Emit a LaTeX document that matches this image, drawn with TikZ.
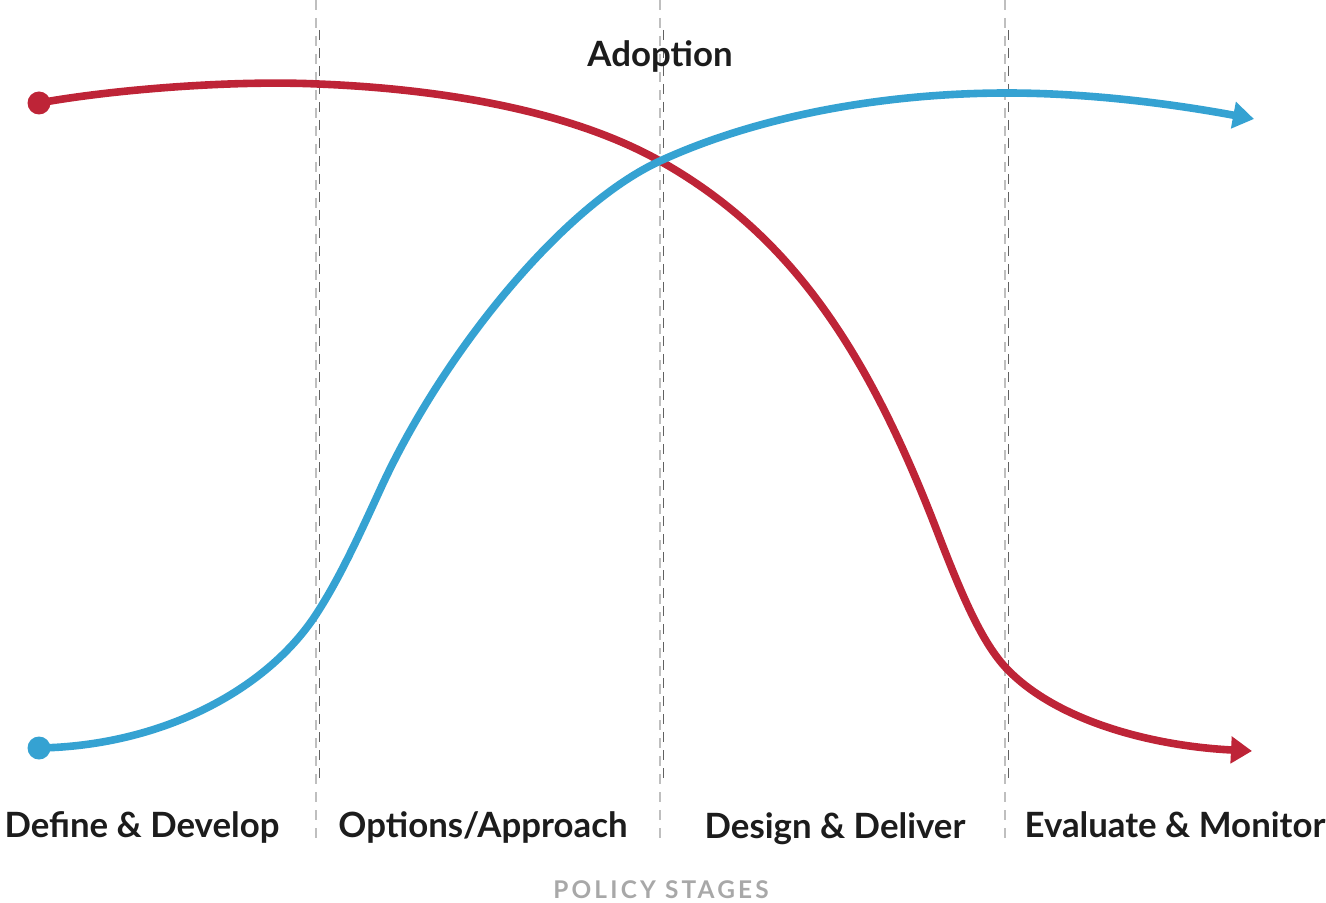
\documentclass[tikz,border=0pt]{standalone}
\usepackage{fontspec}
\setmainfont{Lato}
\newfontfamily\spacedfont[LetterSpace=13]{Lato}
\usetikzlibrary{arrows.meta, positioning}

\definecolor{policyred}{HTML}{BE2437}
\definecolor{policyblue}{HTML}{35A2D2}
\definecolor{inkblack}{HTML}{1C1C1C}
\definecolor{softgray}{HTML}{A8A8A8}

\tikzset{
  curve/.style={line width=3.8pt, -{Triangle[length=10.5pt,width=13pt]}},
  dot/.style={circle, inner sep=0pt, minimum size=11.5pt},
  lightdash/.style={draw=black!25, line width=0.6pt, dash pattern=on 5pt off 4pt},
  darkdash/.style={draw=black!62, line width=0.8pt, dash pattern=on 5pt off 4pt},
  stage/.style={anchor=base, text=inkblack, font=\fontsize{17.4}{20}\selectfont\bfseries}
}

\begin{document}
\begin{tikzpicture}[x=0.5pt,y=-0.5pt]
   \useasboundingbox (0,0) rectangle (1326,903);
   % stage dividers
   \foreach \sx in {316,660,1005} {
     \draw[lightdash] (\sx,0) -- (\sx,845);
     \draw[darkdash] (\sx+3.5,30) -- (\sx+3.5,778);
   }
   \node[dot,fill=policyred] (redstart) at (39,103) {};
   \node[dot,fill=policyblue] (bluestart) at (39,748) {};
   \coordinate (cross) at (660,161);
   \coordinate (redtop) at (318,84);
   \coordinate (redfall) at (937,531);
   \coordinate (redknee) at (1007,669);
   \coordinate (redend) at (1252,751);
   \coordinate (bluerise) at (317,613);
   \coordinate (bluesteep) at (380,490);
   \coordinate (bluetop) at (1007,93);
   \coordinate (blueend) at (1254,119);
   % curves
   \draw[curve,policyred] (redstart.center) .. controls (110,90) and (230,80) .. (redtop)
     .. controls (420,88) and (560,105) .. (cross)
     .. controls (790,234) and (867,349) .. (redfall)
     .. controls (962,596) and (982,643) .. (redknee)
     .. controls (1057,721) and (1152,746) .. (redend);
   \draw[curve,policyblue] (bluestart.center) .. controls (160,746) and (267,691) .. (bluerise)
     .. controls (339,579) and (358,538) .. (bluesteep)
     .. controls (440,358) and (560,207) .. (cross)
     .. controls (760,115) and (887,93) .. (bluetop)
     .. controls (1097,93) and (1184,106) .. (blueend);
   % labels
   \node[stage] (adoption) at (660,67) {Adoption};
   \node[stage] (define) at (142,837) {Define \& Develop};
   \node[stage] (options) at (483,837) {Options/Approach};
   \node[stage] (design) at (835,838) {Design \& Deliver};
   \node[stage] (evaluate) at (1175,837) {Evaluate \& Monitor};
   \node[anchor=base, text=softgray, font=\spacedfont\fontsize{12.2}{14}\selectfont\bfseries] (stages) at (661,898) {POLICY STAGES};
\end{tikzpicture}
\end{document}
